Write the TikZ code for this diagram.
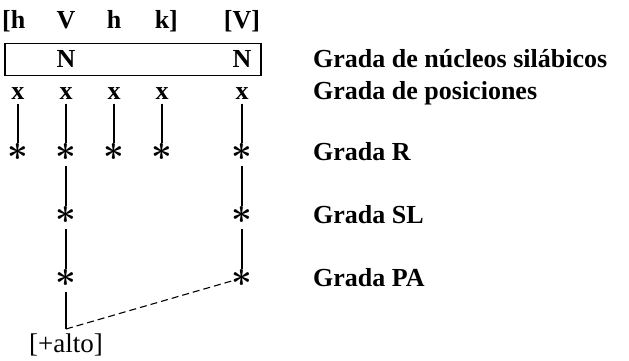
\documentclass[tikz,border=0pt]{standalone}
\usepackage{fontspec}
\usepackage{graphicx}
\setmainfont{Liberation Serif}
\usetikzlibrary{positioning}
\newcommand{\tierstar}{\scalebox{1.45}{\boldmath$\ast$}}

\begin{document}
\begin{tikzpicture}[x=1pt, y=-1pt, font=\fontsize{26}{30}\selectfont\bfseries,
  seg/.style={anchor=base, inner sep=0pt},
  star/.style={inner sep=0pt},
  tier/.style={anchor=base west, inner sep=0pt},
  link/.style={line width=1.1pt, shorten <=5pt}]
\useasboundingbox (0,0) rectangle (629,360);
% segmental string
\node[seg] (h1) at (18,28) {\llap{[}h};
\node[seg] (v1) at (66,28) {V};
\node[seg] (h2) at (114,28) {h};
\node[seg] (k1) at (162,28) {k\rlap{]}};
\node[seg] (v2) at (242,28) {[V]};
% nucleus tier
\node[draw, line width=1.3pt, minimum width=256pt, minimum height=32pt] (nuc) at (133,59.5) {};
\node[seg] (n1) at (66,67) {N};
\node[seg] (n2) at (242,67) {N};
% positions and R tier
\foreach \c/\px in {1/18,2/66,3/114,4/162,5/242} {
  \node[seg] (x\c) at (\px,99) {x};
  \node[star] (r\c) at (\px,152) {\tierstar};
  \draw[link] (x\c) -- (r\c);
}
% SL and PA tiers
\node[star] (s2) at (66,215) {\tierstar};
\node[star] (s5) at (242,215) {\tierstar};
\node[star] (p2) at (66,278) {\tierstar};
\node[star] (p5) at (242,278) {\tierstar};
\draw[link] (r2) -- (s2);
\draw[link] (s2) -- (p2);
\draw[link] (r5) -- (s5);
\draw[link] (s5) -- (p5);
% feature
\coordinate (foot) at (66,329);
\node[seg, font=\fontsize{27}{30}\selectfont] (alto) at (66,352) {[+alto]};
\draw[link] (p2) -- (foot);
\draw[line width=1.1pt, dash pattern=on 7pt off 4pt] (foot) -- (p5);
% tier names
\node[tier] (gn) at (313,67) {Grada de núcleos silábicos};
\node[tier] (gp) at (313,99) {Grada de posiciones};
\node[tier] (gr) at (313,160) {Grada R};
\node[tier] (gs) at (313,223) {Grada SL};
\node[tier] (ga) at (313,286) {Grada PA};
\end{tikzpicture}
\end{document}
